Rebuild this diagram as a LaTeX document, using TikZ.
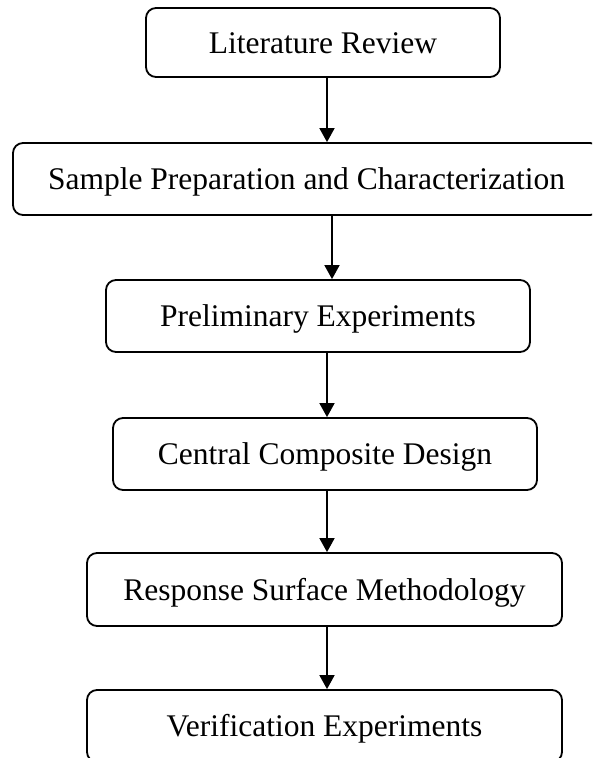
\documentclass[tikz,border=0pt]{standalone}
\usepackage{fontspec}
\setmainfont{Liberation Serif}
\usetikzlibrary{arrows.meta}
\begin{document}
\begin{tikzpicture}[x=1pt,y=-1pt,
  flowbox/.style={draw, line width=1.8pt, rounded corners=10pt, inner sep=0pt,
    text height=21pt, text depth=0pt, font=\fontsize{31.5}{36}\selectfont},
  flowarrow/.style={line width=1.8pt, -{Triangle[width=15pt,length=14pt]}}]
\useasboundingbox (0,0) rectangle (592,758);
\clip (0,0) rectangle (592,758);
\node[flowbox, minimum width=354pt, minimum height=69pt] (s1) at (323,42.5) {Literature Review};
\node[flowbox, minimum width=587pt, minimum height=72pt] (s2) at (306.5,179) {Sample Preparation and Characterization};
\node[flowbox, minimum width=424pt, minimum height=72pt] (s3) at (318,316) {Preliminary Experiments};
\node[flowbox, minimum width=424pt, minimum height=72pt] (s4) at (325,454) {Central Composite Design};
\node[flowbox, minimum width=475pt, minimum height=73pt] (s5) at (324.5,589.5) {Response Surface Methodology};
\node[flowbox, minimum width=475pt, minimum height=72pt] (s6) at (324.5,726) {Verification Experiments};
\coordinate (c1) at (327,0);
\coordinate (c2) at (332,0);
\draw[flowarrow] (s1.south -| c1) -- (s2.north -| c1);
\draw[flowarrow] (s2.south -| c2) -- (s3.north -| c2);
\draw[flowarrow] (s3.south -| c1) -- (s4.north -| c1);
\draw[flowarrow] (s4.south -| c1) -- (s5.north -| c1);
\draw[flowarrow] (s5.south -| c1) -- (s6.north -| c1);
\end{tikzpicture}
\end{document}
